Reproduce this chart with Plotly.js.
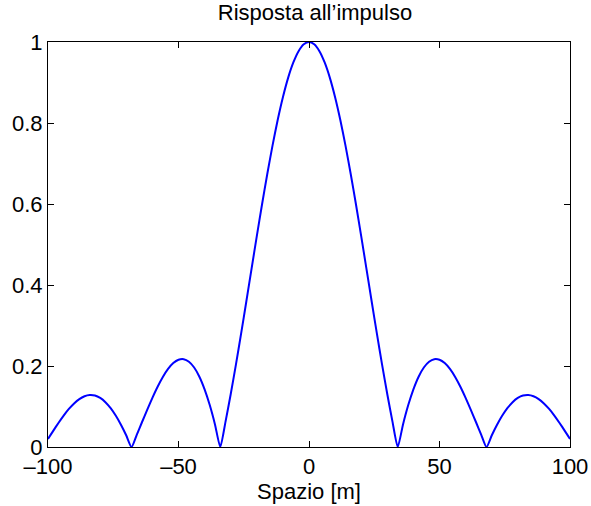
<!DOCTYPE html>
<html>
<head>
<meta charset="utf-8">
<script src="https://cdn.plot.ly/plotly-3.0.1.min.js"></script>
<style>html,body{margin:0;padding:0;background:#fff;}#plot{width:591px;height:506px;}</style>
</head>
<body>
<div id="plot"></div>
<script>
var xValues = [-100,-98,-96,-94,-92,-90,-88,-86,-84,-82,-80,-78,-76,-74,-72,-70,-68,-66,-64,-62,-60,-58,-56,-54,-52,-50,-48,-46,-44,-42,-40,-38,-36,-34,-32,-30,-28,-26,-24,-22,-20,-18,-16,-14,-12,-10,-8,-6,-4,-2,0,2,4,6,8,10,12,14,16,18,20,22,24,26,28,30,32,34,36,38,40,42,44,46,48,50,52,54,56,58,60,62,64,66,68,70,72,74,76,78,80,82,84,86,88,90,92,94,96,98,100];
var yValues = [0.0199,0.0399,0.0593,0.0776,0.0939,0.1076,0.1183,0.1253,0.1283,0.1270,0.1211,0.1107,0.0959,0.0770,0.0543,0.0284,0,0.0301,0.0611,0.0919,0.1215,0.1489,0.1730,0.1928,0.2072,0.2155,0.2169,0.2106,0.1963,0.1736,0.1424,0.1029,0.0552,0,0.0621,0.1303,0.2035,0.2804,0.3599,0.4404,0.5205,0.5987,0.6735,0.7436,0.8073,0.8636,0.9114,0.9494,0.9774,0.9943,1,0.9943,0.9774,0.9494,0.9114,0.8636,0.8073,0.7436,0.6735,0.5987,0.5205,0.4404,0.3599,0.2804,0.2035,0.1303,0.0621,0,0.0552,0.1029,0.1424,0.1736,0.1963,0.2106,0.2169,0.2155,0.2072,0.1928,0.1730,0.1489,0.1215,0.0919,0.0611,0.0301,0,0.0284,0.0543,0.0770,0.0959,0.1107,0.1211,0.1270,0.1283,0.1253,0.1183,0.1076,0.0939,0.0776,0.0593,0.0399,0.0199];
var xTicks = [-100,-50,0,50,100];
var yTicks = [0,0.2,0.4,0.6,0.8,1];

var trace = {
  x: xValues, y: yValues, type: 'scatter', mode: 'lines',
  line: {color: 'rgb(0,0,255)', width: 2, shape: 'spline', smoothing: 0.6},
  hoverinfo: 'none'
};
var fontFam = 'Liberation Sans, Arial, Helvetica, sans-serif';
var layout = {
  width: 591, height: 506,
  margin: {l: 48, r: 21, t: 42, b: 59},
  paper_bgcolor: '#fff', plot_bgcolor: '#fff',
  showlegend: false,
  title: {text: 'Risposta all’impulso', font: {family: fontFam, size: 22, color: '#000'}, x: 0.533, xanchor: 'center', y: 0.976, yanchor: 'middle'},
  xaxis: {
    range: [-100, 100], tickvals: xTicks, ticktext: xTicks.map(function(v){return v<0 ? '\u2013' + Math.abs(v) : String(v);}),
    ticks: 'inside', ticklen: 6, tickcolor: '#000', mirror: 'ticks',
    showline: true, linecolor: '#000', linewidth: 1, showgrid: false, zeroline: false,
    tickfont: {family: fontFam, size: 22, color: '#000'},
    title: {text: 'Spazio [m]', font: {family: fontFam, size: 22, color: '#000'}, standoff: 0}
  },
  yaxis: {
    range: [0, 1], tickvals: yTicks, ticktext: yTicks.map(String),
    ticks: 'inside', ticklen: 6, tickcolor: '#000', mirror: 'ticks',
    showline: true, linecolor: '#000', linewidth: 1, showgrid: false, zeroline: false,
    tickfont: {family: fontFam, size: 22, color: '#000'}
  }
};
Plotly.newPlot('plot', [trace], layout, {staticPlot: true, displayModeBar: false});
</script>
</body>
</html>
